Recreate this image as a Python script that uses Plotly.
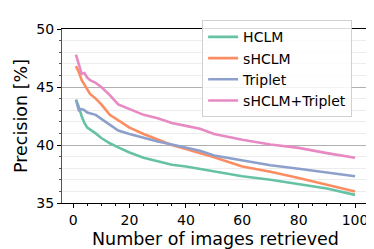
import plotly.graph_objects as go

x_vals = [1, 2, 3, 4, 5, 6, 8, 10, 13, 16, 20, 25, 30, 35, 40, 45, 50, 60, 70, 80, 90, 100]

hclm = [43.9, 43.3, 42.5, 41.9, 41.5, 41.35, 41.0, 40.6, 40.15, 39.8, 39.35, 38.9,
        38.6, 38.3, 38.15, 37.95, 37.75, 37.3, 37.0, 36.65, 36.25, 35.7]
shclm = [46.8, 46.3, 45.6, 45.2, 44.8, 44.4, 44.0, 43.5, 42.6, 42.1, 41.5, 40.95,
         40.45, 40.0, 39.65, 39.3, 38.95, 38.15, 37.7, 37.15, 36.6, 36.0]
triplet = [43.9, 43.0, 43.1, 43.0, 42.8, 42.75, 42.6, 42.25, 41.75, 41.25, 40.95, 40.6,
           40.3, 40.05, 39.8, 39.5, 39.1, 38.65, 38.25, 37.95, 37.65, 37.3]
shclm_triplet = [47.8, 47.0, 46.15, 46.2, 45.8, 45.6, 45.35, 45.0, 44.3, 43.5, 43.1, 42.6,
                 42.3, 41.9, 41.65, 41.4, 40.95, 40.45, 40.05, 39.75, 39.3, 38.9]

series_names = ["HCLM", "sHCLM", "Triplet", "sHCLM+Triplet"]
series_values = [hclm, shclm, triplet, shclm_triplet]
colors = ["#66c2a5", "#fc8d62", "#8da0cb", "#e78ac3"]

fig = go.Figure()
for name, vals, c in zip(series_names, series_values, colors):
    fig.add_trace(go.Scatter(x=x_vals, y=vals, mode="lines", name=name,
                             line=dict(color=c, width=2.6)))

font_family = "DejaVu Sans"
fig.update_layout(
    width=374, height=249,
    margin=dict(l=52, r=12, t=15, b=49),
    paper_bgcolor="white", plot_bgcolor="white",
    font=dict(family=font_family, color="black"),
    showlegend=True,
    legend=dict(x=0.945, y=1.05, xanchor="right", yanchor="top",
                bgcolor="rgba(255,255,255,0.85)", bordercolor="#d0d0d0", borderwidth=1,
                font=dict(size=14, family=font_family), tracegroupgap=0,
                itemwidth=30),
    xaxis=dict(
        range=[-3.95, 104.95], tickvals=[0, 20, 40, 60, 80, 100],
        ticks="outside", ticklen=4, tickcolor="black", tickfont=dict(size=14),
        showgrid=False, zeroline=False,
        showline=True, linecolor="black", linewidth=1, mirror=True,
        minor=dict(dtick=5, tick0=0, ticks="outside", ticklen=2, tickcolor="black", showgrid=False),
        title=dict(text="Number of images retrieved", font=dict(size=17.5), standoff=5),
    ),
    yaxis=dict(
        range=[35, 50], tickvals=[35, 40, 45, 50],
        ticks="outside", ticklen=4, tickcolor="black", tickfont=dict(size=14),
        showgrid=True, gridcolor="#b0b0b0", gridwidth=1, zeroline=False,
        showline=True, linecolor="#555555", linewidth=1, mirror=True,
        minor=dict(dtick=1, tick0=35, ticks="outside", ticklen=2, tickcolor="#555555",
                   showgrid=True, gridcolor="#ececec", gridwidth=1),
        title=dict(text="Precision [%]", font=dict(size=17.5), standoff=4),
    ),
)

fig.write_html("out.html")
